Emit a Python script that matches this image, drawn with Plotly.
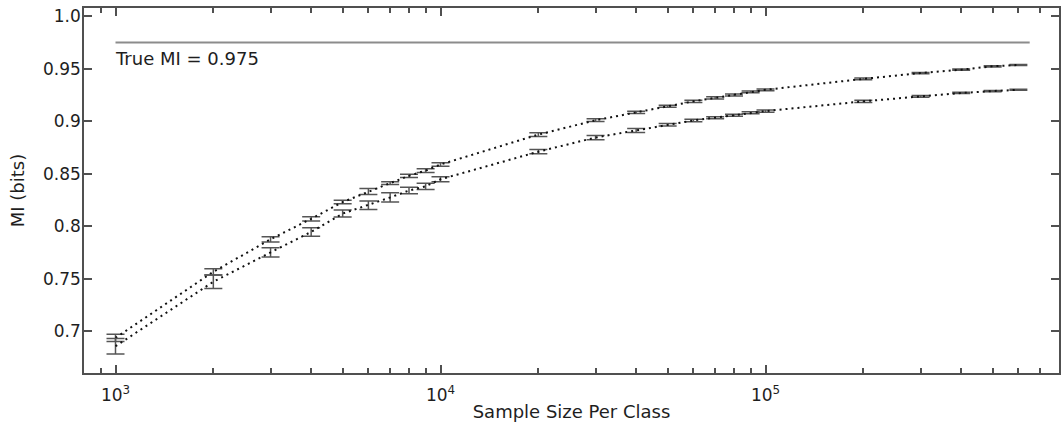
import math
import plotly.graph_objects as go

# ---- data ----
sample_sizes = [1000, 2000, 3000, 4000, 5000, 6000, 7000, 8000, 9000,
                10000, 20000, 30000, 40000, 50000, 60000, 70000, 80000, 90000,
                100000, 200000, 300000, 400000, 500000, 600000]

upper_mi = [0.6935, 0.7565, 0.7875, 0.807, 0.823, 0.833, 0.841, 0.848, 0.853,
            0.8588, 0.8873, 0.901, 0.9085, 0.9143, 0.919, 0.9223, 0.925, 0.928,
            0.930, 0.9404, 0.946, 0.9492, 0.9524, 0.9537]
upper_err = [0.0035, 0.003, 0.0025, 0.002, 0.0016, 0.0028, 0.0013, 0.0016, 0.0018,
             0.0017, 0.0017, 0.0013, 0.001, 0.001, 0.001, 0.001, 0.001, 0.0008,
             0.0008, 0.0008, 0.0006, 0.0006, 0.0006, 0.0005]

lower_mi = [0.6855, 0.747, 0.775, 0.7945, 0.812, 0.820, 0.8274, 0.834, 0.838,
            0.8447, 0.871, 0.8845, 0.8912, 0.8966, 0.9008, 0.9034, 0.9057, 0.9082,
            0.9097, 0.919, 0.9238, 0.927, 0.9288, 0.930]
lower_err = [0.0075, 0.0065, 0.0045, 0.004, 0.0033, 0.004, 0.0044, 0.003, 0.003,
             0.0024, 0.002, 0.002, 0.0018, 0.0012, 0.0012, 0.001, 0.001, 0.001,
             0.001, 0.001, 0.0008, 0.0006, 0.0006, 0.0005]

true_mi = 0.975
true_mi_x = [1000, 650000]
true_mi_label = "True MI = 0.975"

x_tick_vals = [1000, 10000, 100000]
x_tick_text = ["10<sup>3</sup>", "10<sup>4</sup>", "10<sup>5</sup>"]
x_minor_vals = [900, 2000, 3000, 4000, 5000, 6000, 7000, 8000, 9000,
                20000, 30000, 40000, 50000, 60000, 70000, 80000, 90000,
                200000, 300000, 400000, 500000, 600000, 700000]
y_tick_vals = [0.7, 0.75, 0.8, 0.85, 0.9, 0.95, 1.0]
y_tick_text = ["0.7", "0.75", "0.8", "0.85", "0.9", "0.95", "1.0"]

x_title = "Sample Size Per Class"
y_title = "MI (bits)"

FONT = "DejaVu Sans"
AX = "#505050"
TXT = "#1e1e1e"

fig = go.Figure()

fig.add_trace(go.Scatter(
    x=true_mi_x, y=[true_mi, true_mi], mode="lines",
    line=dict(color="#8c8c8c", width=2), showlegend=False, hoverinfo="skip"))

for ys, es in ((upper_mi, upper_err), (lower_mi, lower_err)):
    fig.add_trace(go.Scatter(
        x=sample_sizes, y=ys, mode="lines",
        line=dict(color="#111111", width=2, dash="2px,4px"),
        error_y=dict(type="data", array=es, visible=True,
                     color="#555555", thickness=1.5, width=9),
        showlegend=False))

fig.add_annotation(x=math.log10(true_mi_x[0]), y=true_mi, xref="x", yref="y",
                   text=true_mi_label, showarrow=False, xanchor="left",
                   yanchor="top", yshift=-3, xshift=-3,
                   font=dict(family=FONT, size=18, color=TXT))

fig.update_xaxes(
    type="log", range=[math.log10(800), math.log10(800000)],
    tickmode="array", tickvals=x_tick_vals, ticktext=x_tick_text,
    ticks="inside", ticklen=8, tickwidth=1.5, tickcolor=AX,
    minor=dict(tickmode="array", tickvals=x_minor_vals, ticks="inside",
               ticklen=5, tickwidth=1.5, tickcolor=AX),
    showline=True, linecolor=AX, linewidth=1.5, mirror="ticks",
    showgrid=False, zeroline=False, ticklabelstandoff=6,
    tickfont=dict(family=FONT, size=17, color=TXT),
    title=dict(text=x_title, standoff=1,
               font=dict(family=FONT, size=18, color=TXT)))

fig.update_yaxes(
    range=[0.66, 1.008],
    tickmode="array", tickvals=y_tick_vals, ticktext=y_tick_text,
    ticks="inside", ticklen=8, tickwidth=1.5, tickcolor=AX,
    showline=True, linecolor=AX, linewidth=1.5, mirror="ticks",
    showgrid=False, zeroline=False, ticklabelstandoff=-2,
    tickfont=dict(family=FONT, size=17, color=TXT),
    title=dict(text=y_title, standoff=14,
               font=dict(family=FONT, size=18, color=TXT)))

fig.update_layout(
    width=1061, height=428,
    margin=dict(l=84, r=2, t=8, b=55, autoexpand=False),
    paper_bgcolor="white", plot_bgcolor="white",
    font=dict(family=FONT, color=TXT),
)

fig.write_html("out.html")
